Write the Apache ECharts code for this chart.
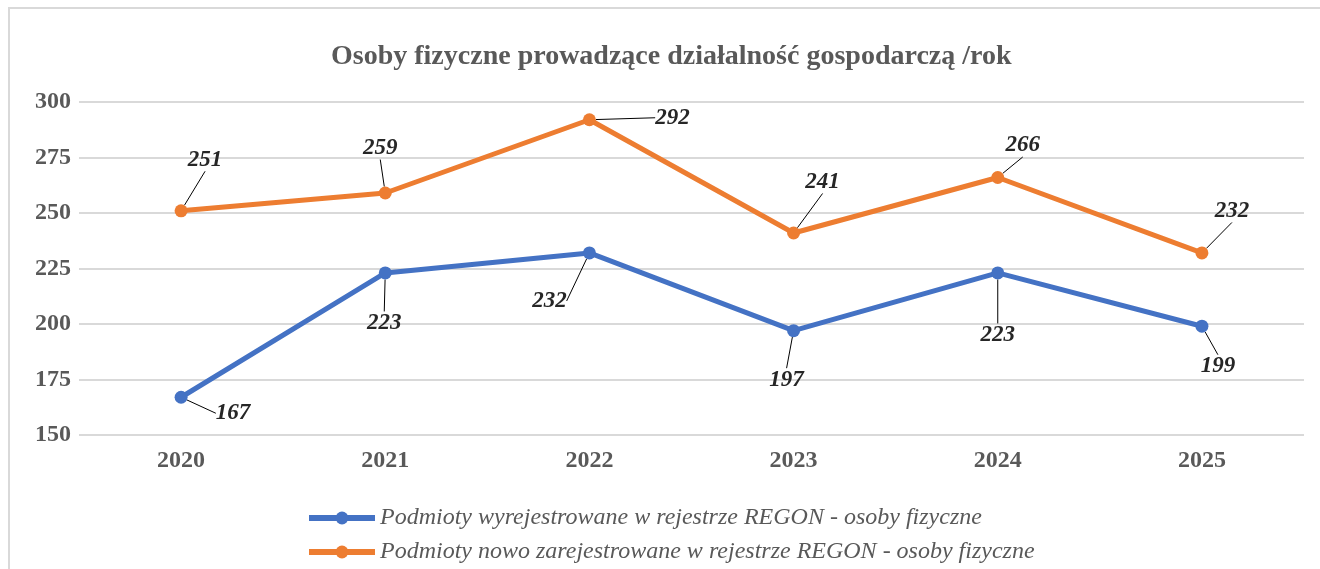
<!DOCTYPE html>
<html>
<head>
<meta charset="utf-8">
<script src="https://cdn.jsdelivr.net/npm/echarts@6/dist/echarts.min.js"></script>
<style>
  html, body { margin: 0; padding: 0; background: #fff; }
  #chart { width: 1320px; height: 569px; }
</style>
</head>
<body>
<div id="chart"></div>
<script>
'use strict';
var years = ['2020', '2021', '2022', '2023', '2024', '2025'];
var wyrejestrowane = [167, 223, 232, 197, 223, 199];
var zarejestrowane = [251, 259, 292, 241, 266, 232];

// label offsets from the point (px)
var blueLabelOffsets = [[52, 16], [-1, 50], [-40, 48], [-7, 49], [0, 62], [16, 40]];
var orangeLabelOffsets = [[24, -51], [-5, -45], [83, -2], [29, -51], [25, -32], [30, -42]];

var serif = '"Liberation Serif", "Times New Roman", serif';

function makeSeries(name, data, color, offsets) {
    return {
        name: name,
        type: 'line',
        data: data,
        symbol: 'circle',
        symbolSize: 13,
        lineStyle: { color: color, width: 5 },
        itemStyle: { color: color },
        label: {
            show: true,
            position: 'inside',
            fontFamily: serif,
            fontStyle: 'italic',
            fontWeight: 'bold',
            fontSize: 23,
            color: '#262626'
        },
        labelLine: {
            show: true,
            lineStyle: { color: '#000', width: 1 }
        },
        labelLayout: function (params) {
            var o = offsets[params.dataIndex];
            return { dx: o[0], dy: o[1] };
        }
    };
}

var myChart = echarts.init(document.getElementById('chart'));
var option = {
    animation: false,
    graphic: [{
        type: 'rect',
        shape: { x: 9, y: 8, width: 1330, height: 600 },
        style: { fill: 'none', stroke: '#d9d9d9', lineWidth: 2 },
        silent: true
    }],
    title: {
        text: 'Osoby fizyczne prowadzące działalność gospodarczą /rok',
        left: 326,
        top: 38,
        textStyle: {
            fontFamily: serif,
            fontWeight: 'bold',
            fontSize: 28,
            color: '#595959'
        }
    },
    legend: {
        orient: 'vertical',
        left: 306,
        top: 506,
        padding: 0,
        itemWidth: 66,
        itemHeight: 16,
        itemGap: 10,
        lineStyle: { width: 6 },
        textStyle: {
            fontFamily: serif,
            fontStyle: 'italic',
            fontSize: 24,
            color: '#595959'
        }
    },
    grid: {
        left: 79,
        right: 16,
        top: 102,
        bottom: 134,
        containLabel: false
    },
    xAxis: {
        type: 'category',
        data: years,
        boundaryGap: true,
        axisLine: { show: false },
        axisTick: { show: false },
        axisLabel: {
            margin: 14,
            fontFamily: serif,
            fontWeight: 'bold',
            fontSize: 24,
            color: '#595959'
        }
    },
    yAxis: {
        type: 'value',
        min: 150,
        max: 300,
        interval: 25,
        axisLine: { show: false },
        axisTick: { show: false },
        splitLine: { lineStyle: { color: '#d9d9d9', width: 2 } },
        axisLabel: {
            margin: 8,
            fontFamily: serif,
            fontWeight: 'bold',
            fontSize: 24,
            color: '#595959'
        }
    },
    series: [
        makeSeries('Podmioty wyrejestrowane w rejestrze REGON - osoby fizyczne', wyrejestrowane, '#4472c4', blueLabelOffsets),
        makeSeries('Podmioty nowo zarejestrowane w rejestrze REGON - osoby fizyczne', zarejestrowane, '#ed7d31', orangeLabelOffsets)
    ]
};
myChart.setOption(option);
</script>
</body>
</html>
